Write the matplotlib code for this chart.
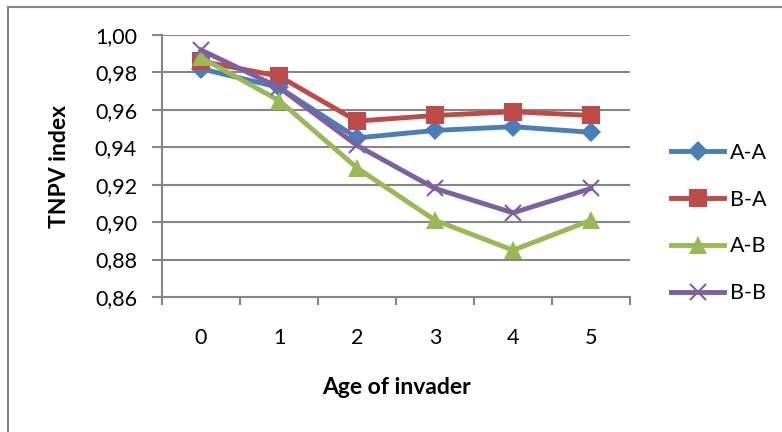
import matplotlib
matplotlib.use("Agg")
import matplotlib.pyplot as plt
from matplotlib.patches import Rectangle
from matplotlib.lines import Line2D

plt.rcParams['font.family'] = ['Lato', 'DejaVu Sans']

categories = ['0', '1', '2', '3', '4', '5']
series_names = ['A-A', 'B-A', 'A-B', 'B-B']
aa = [0.982, 0.972, 0.945, 0.949, 0.951, 0.948]
ba = [0.986, 0.978, 0.954, 0.957, 0.959, 0.957]
ab = [0.988, 0.965, 0.929, 0.901, 0.885, 0.901]
bb = [0.992, 0.972, 0.941, 0.918, 0.905, 0.918]
yticks = [0.86, 0.88, 0.90, 0.92, 0.94, 0.96, 0.98, 1.00]
ytick_labels = ['0,86', '0,88', '0,90', '0,92', '0,94', '0,96', '0,98', '1,00']

W, H = 782, 432
fig = plt.figure(figsize=(W / 100, H / 100), dpi=100)
fig.patch.set_facecolor('white')

# chart-area frame
fig.patches.append(Rectangle((8 / W, -0.05), 1.2, 1 - 7 / H + 0.05,
                             transform=fig.transFigure, fill=False,
                             edgecolor='#868686', linewidth=1.5))

left, right, top, bottom = 162, 630, 35, 297
ax = fig.add_axes([left / W, 1 - bottom / H, (right - left) / W, (bottom - top) / H])

x = list(range(len(categories)))
styles = [
    (aa, '#4A7EBB', 'D', 10),
    (ba, '#BE4B48', 's', 13),
    (ab, '#98B954', '^', 13),
    (bb, '#7D60A0', 'x', 12),
]
handles = []
for (vals, col, mk, ms), name in zip(styles, series_names):
    kw = dict(color=col, linewidth=3.5, marker=mk, markersize=ms, zorder=3)
    if mk == 'x':
        kw.update(markeredgewidth=1.5)
    else:
        kw.update(markeredgewidth=0)
    ax.plot(x, vals, **kw)
    handles.append(Line2D([], [], label=name, **kw))

ax.set_xlim(-0.5, len(categories) - 0.5)
ax.set_ylim(0.86, 1.00)
ax.set_yticks(yticks)
ax.set_yticklabels(ytick_labels, fontsize=15.5)
ax.set_xticks(x)
ax.set_xticklabels(categories, fontsize=15.5)
ax.set_xticks([i - 0.5 for i in range(len(categories) + 1)], minor=True)
ax.tick_params(axis='x', which='major', length=0, pad=22)
ax.tick_params(axis='x', which='minor', length=6, color='#868686', width=1.5, direction='out')
ax.tick_params(axis='y', length=7, color='#868686', width=1.5, direction='out', pad=11)

ax.grid(axis='y', color='#868686', linewidth=1.5)
ax.set_axisbelow(True)
for s in ['top', 'right']:
    ax.spines[s].set_visible(False)
for s in ['left', 'bottom']:
    ax.spines[s].set_color('#868686')
    ax.spines[s].set_linewidth(1.5)

fig.text(60 / W, 1 - 166 / H, 'TNPV index', rotation=90, fontsize=16.5,
         fontweight='bold', ha='center', va='center')
fig.text(396 / W, 1 - 387 / H, 'Age of invader', fontsize=16.5,
         fontweight='bold', ha='center', va='center')

leg = fig.legend(handles=handles, loc='upper left', bbox_to_anchor=(662 / W, 1 - 134 / H),
                 frameon=False, fontsize=15.5, handlelength=2.5, handletextpad=0.25,
                 labelspacing=1.25, borderaxespad=0)

fig.savefig('out.png', dpi=100)
